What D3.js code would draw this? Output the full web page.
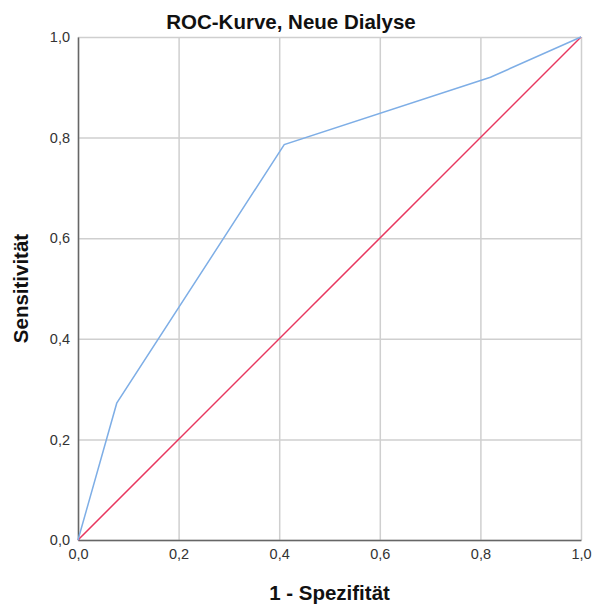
<!DOCTYPE html>
<html>
<head>
<meta charset="utf-8">
<script src="https://d3js.org/d3.v7.min.js"></script>
<style>
  body { margin: 0; background: #fff; }
  text { font-family: "Liberation Sans", Arial, sans-serif; }
</style>
</head>
<body>
<div class="chart"></div>
<script>
// ROC-Kurve, Neue Dialyse
const FPR = [0, 0.077, 0.41, 0.82, 1]       // 1 - Spezifität
const TPR = [0, 0.272, 0.786, 0.92, 1]      // Sensitivität
const REF = [0, 1]                          // Bezugslinie
const TICKS = [0, 0.2, 0.4, 0.6, 0.8, 1]

var svgWidth = 593
var svgHeight = 606
var margin = { top: 37, bottom: 66, left: 78, right: 12 }
var width = svgWidth - margin.left - margin.right
var height = svgHeight - margin.top - margin.bottom

var fmt = d => d3.format('.1f')(d).replace('.', ',')

var svg = d3.select('.chart')
    .append('svg')
    .attr('width', svgWidth)
    .attr('height', svgHeight)

var chartGroup = svg.append('g')
    .attr('transform', `translate(${margin.left}, ${margin.top})`)

var xScale = d3.scaleLinear().domain([0, 1]).range([0, width])
var yScale = d3.scaleLinear().domain([0, 1]).range([height, 0])

// Grid
chartGroup.append('g')
    .call(d3.axisBottom(xScale).tickValues(TICKS).tickSize(height).tickFormat(''))
    .call(g => g.select('.domain').remove())
    .selectAll('line').attr('stroke', '#cfcfcf').attr('stroke-width', 1.5)

chartGroup.append('g')
    .call(d3.axisLeft(yScale).tickValues(TICKS).tickSize(-width).tickFormat(''))
    .call(g => g.select('.domain').remove())
    .selectAll('line').attr('stroke', '#cfcfcf').attr('stroke-width', 1.5)

// Axes
var xAxis = chartGroup.append('g')
    .attr('transform', `translate(0, ${height})`)
    .call(d3.axisBottom(xScale).tickValues(TICKS).tickSize(0).tickPadding(9).tickFormat(fmt))
xAxis.select('.domain').attr('stroke', '#666').attr('stroke-width', 1.5)

var yAxis = chartGroup.append('g')
    .call(d3.axisLeft(yScale).tickValues(TICKS).tickSize(0).tickPadding(8).tickFormat(fmt))
yAxis.select('.domain').attr('stroke', '#666').attr('stroke-width', 1.5)

svg.selectAll('.tick text')
    .attr('font-size', '14.5px')
    .attr('fill', '#333')
    .style('font-family', '"Liberation Sans", Arial, sans-serif')

// Lines
var line = d3.line()
    .x(d => xScale(d[0]))
    .y(d => yScale(d[1]))

chartGroup.append('path')
    .datum(REF.map(v => [v, v]))
    .attr('d', line)
    .attr('fill', 'none')
    .attr('stroke', '#e8375f')
    .attr('stroke-width', 1.5)

chartGroup.append('path')
    .datum(FPR.map((v, i) => [v, TPR[i]]))
    .attr('d', line)
    .attr('fill', 'none')
    .attr('stroke', '#7eaee6')
    .attr('stroke-width', 1.5)

// Labels
svg.append('text')
    .attr('x', 291)
    .attr('y', 29)
    .attr('text-anchor', 'middle')
    .attr('font-size', '20.5px')
    .attr('font-weight', 'bold')
    .attr('fill', '#111')
    .text('ROC-Kurve, Neue Dialyse')

svg.append('text')
    .attr('x', margin.left + width / 2)
    .attr('y', 600)
    .attr('text-anchor', 'middle')
    .attr('font-size', '20.5px')
    .attr('font-weight', 'bold')
    .attr('fill', '#111')
    .text('1 - Spezifität')

svg.append('text')
    .attr('transform', `translate(28, ${margin.top + height / 2}) rotate(-90)`)
    .attr('text-anchor', 'middle')
    .attr('font-size', '20.5px')
    .attr('font-weight', 'bold')
    .attr('fill', '#111')
    .text('Sensitivität')
</script>
</body>
</html>
